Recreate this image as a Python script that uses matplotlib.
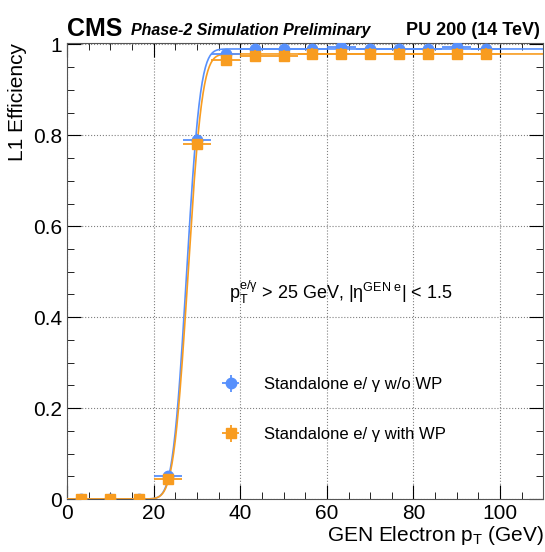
import numpy as np
import matplotlib.pyplot as plt
from matplotlib.ticker import MultipleLocator
from math import erf

plt.rcParams['font.family'] = ['Liberation Sans', 'DejaVu Sans']
plt.rcParams['mathtext.fontset'] = 'custom'
plt.rcParams['mathtext.rm'] = 'Liberation Sans'
plt.rcParams['mathtext.it'] = 'Liberation Sans:italic'

# bin centres (GeV) and half widths
pt = [3.33, 10.0, 16.67, 23.33, 30.0, 36.67, 43.33, 50.0, 56.67, 63.33, 70.0, 76.67, 83.33, 90.0, 96.67]
pt_err = [3.33] * 15

eff_nowp = [0.0, 0.0, 0.0, 0.05, 0.79, 0.98, 0.99, 0.99, 0.99, 0.995, 0.99, 0.99, 0.99, 0.995, 0.99]
err_nowp = [0.0, 0.0, 0.0, 0.005, 0.012, 0.008, 0.006, 0.006, 0.006, 0.005, 0.006, 0.006, 0.006, 0.005, 0.006]
eff_wp = [0.0, 0.0, 0.0, 0.045, 0.78, 0.965, 0.975, 0.975, 0.98, 0.98, 0.98, 0.98, 0.98, 0.98, 0.98]
err_wp = [0.0, 0.0, 0.0, 0.005, 0.013, 0.01, 0.012, 0.012, 0.012, 0.012, 0.012, 0.012, 0.012, 0.012, 0.012]

# erf fit parameters (plateau, mean, sigma)
fit_nowp = (0.99, 27.6, 2.5)
fit_wp = (0.979, 27.9, 2.6)

blue = '#5790fc'
orange = '#f89c20'


def fit_curve(p, x):
    a, mu, s = p
    return np.array([a * 0.5 * (1 + erf((v - mu) / (np.sqrt(2) * s))) for v in x])


fig = plt.figure(figsize=(5.45, 5.52), dpi=100)
ax = fig.add_axes([0.123, 0.096, 0.874, 0.826])

xx = np.linspace(0, 110, 600)
ax.plot(xx, fit_curve(fit_nowp, xx), color=blue, lw=1.2, zorder=2)
ax.plot(xx, fit_curve(fit_wp, xx), color=orange, lw=1.2, zorder=2)

ax.errorbar(pt, eff_nowp, xerr=pt_err, yerr=err_nowp, fmt='o', color=blue,
            ms=7.5, elinewidth=1.3, capsize=0, zorder=3, label='Standalone e/ γ w/o WP')
ax.errorbar(pt, eff_wp, xerr=pt_err, yerr=err_wp, fmt='s', color=orange,
            ms=7.5, elinewidth=1.3, capsize=0, zorder=4, label='Standalone e/ γ with WP')

ax.set_xlim(0, 110)
ax.set_ylim(0, 1.003)
ax.xaxis.set_major_locator(MultipleLocator(20))
ax.xaxis.set_minor_locator(MultipleLocator(5))
ax.yaxis.set_minor_locator(MultipleLocator(0.05))
ax.set_yticks([0, 0.2, 0.4, 0.6, 0.8, 1.0])
ax.set_yticklabels(['0', '0.2', '0.4', '0.6', '0.8', '1'])
ax.tick_params(which='both', direction='in', top=True, right=True, labelsize=15)
ax.tick_params(which='major', length=10)
ax.tick_params(which='minor', length=5)
ax.grid(True, which='major', linestyle=':', color='gray', lw=0.8)
for s in ax.spines.values():
    s.set_color('#555555')

ax.set_xlabel(r'GEN Electron p$_\mathrm{T}$ (GeV)', fontsize=15, loc='right', labelpad=1)
ax.set_ylabel('L1 Efficiency', fontsize=15, loc='top', labelpad=4)

fig.text(0.123, 0.935, 'CMS', fontsize=18, fontweight='bold')
fig.text(0.24, 0.937, 'Phase-2 Simulation Preliminary', fontsize=11.5, fontweight='bold', style='italic')
fig.text(0.99, 0.937, 'PU 200 (14 TeV)', fontsize=13, fontweight='bold', ha='right')

ax.text(37.5, 0.44, r'p$_\mathrm{T}^\mathrm{e/γ}$ > 25 GeV, |η$^\mathrm{GEN\ e}$| < 1.5',
        fontsize=13)

ax.legend(loc='upper left', bbox_to_anchor=(0.27, 0.3), frameon=False, fontsize=12,
          handlelength=2.4, labelspacing=2.1)

fig.savefig('out.png', dpi=100)
